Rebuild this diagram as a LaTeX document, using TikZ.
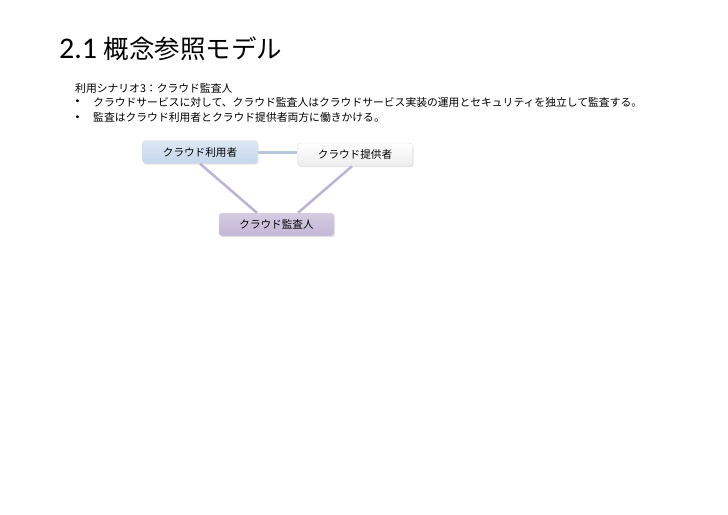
\documentclass[tikz,border=0pt]{standalone}
\usepackage{fontspec}
\usepackage{xcolor}
\usepackage{tikz}
\usetikzlibrary{shadows}
\setmainfont{Carlito}
\newfontfamily\jpfont{Noto Sans CJK JP}

\definecolor{userblue}{HTML}{C6D7EB}
\definecolor{auditpurple}{HTML}{C3B6D6}
\definecolor{linkblue}{HTML}{B7C7DD}
\definecolor{linkpurple}{HTML}{BDB4D3}

\begin{document}
\begin{tikzpicture}[x=1pt,y=-1pt]
        % \tikzstyle{every path}=[very thick]

        \edef\boxw{115pt}
        \tikzstyle{rolebox}=[draw=black!12,rounded corners=3pt,minimum width=\boxw,minimum height=23pt,
            font=\jpfont\fontsize{10.6}{12}\selectfont,drop shadow={opacity=0.2,shadow xshift=1pt,shadow yshift=-1.2pt}]
        \tikzstyle{bodytext}=[anchor=west,inner sep=0pt,font=\jpfont\fontsize{10.8}{13}\selectfont]
        \tikzstyle{bullet}=[anchor=west,inner sep=0pt,font=\fontsize{8}{10}\selectfont]

        \useasboundingbox [fill=white] (0,0) rectangle (728,514);

        %% Title and text
        \node [anchor=base west,inner sep=0pt] (title) at (59,58)
            {\fontsize{30}{34}\selectfont 2.1 {\jpfont\fontsize{25.5}{30}\selectfont 概念参照モデル}};
        \node [bodytext] (scenario) at (75,88.5) {利用シナリオ3：クラウド監査人};
        \node [bullet] (dot1) at (75.5,102) {•};
        \node [bodytext] (item1) at (93,102)
            {クラウドサービスに対して、クラウド監査人はクラウドサービス実装の運用とセキュリティを独立して監査する。};
        \node [bullet] (dot2) at (75.5,117.5) {•};
        \node [bodytext] (item2) at (93,117.5) {監査はクラウド利用者とクラウド提供者両方に働きかける。};

        %% Roles
        \node [rolebox,top color=userblue!60,bottom color=userblue] (user) at (200,152) {クラウド利用者};
        \node [rolebox,top color=white,bottom color=black!7] (provider) at (355,154.5) {クラウド提供者};
        \node [rolebox,top color=auditpurple!70,bottom color=auditpurple] (auditor) at (276.5,224.5) {クラウド監査人};

        %% Links
        \draw [linkblue,line width=3pt] (user.east) -- (provider.west |- user.east);
        \draw [linkpurple,line width=2.5pt] (user.south) -- ([xshift=-19.5pt]auditor.north);
        \draw [linkpurple,line width=2.5pt] ([xshift=-3pt]provider.south) -- ([xshift=21.5pt]auditor.north);

\end{tikzpicture}
\end{document}
